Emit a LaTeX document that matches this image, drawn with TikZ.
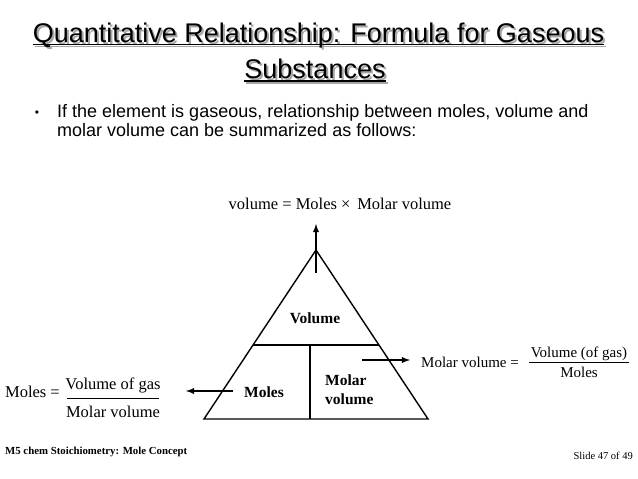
\documentclass[tikz,border=0pt]{standalone}
\usepackage{fontspec}
\setmainfont{Liberation Serif}
\newfontfamily\arialfont{Liberation Sans}
\usepackage{tikz}
\usetikzlibrary{arrows,positioning,calc}

\begin{document}
\begin{tikzpicture}[
    x=1pt, y=-1pt,
    txt/.style={inner sep=0pt, anchor=base},
    title/.style={txt, font=\arialfont\fontsize{27}{32}\selectfont},
    shade/.style={title, text=black!35},
    body/.style={txt, anchor=base west, font=\arialfont\fontsize{18}{20}\selectfont},
    lbl/.style={txt, font=\bfseries\fontsize{15.5}{19}\selectfont},
    frm/.style={txt, font=\fontsize{16.5}{20}\selectfont},
    frmr/.style={txt, font=\fontsize{15}{18}\selectfont},
    foot/.style={txt, font=\fontsize{10.5}{12}\selectfont},
    tri/.style={line width=1.4pt},
    bar/.style={line width=0.9pt},
    arrow/.style={-latex, line width=1.8pt}
]
    \useasboundingbox (0,0) rectangle (638,479);

    % title with shadow
    \node[shade] (title1s) at (320.5,44) {Quantitative Relationship: Formula for Gaseous};
    \node[shade] (title2s) at (317,80) {Substances};
    \draw[black!35, line width=1.6pt] ([yshift=-2.6pt]title1s.base west) -- ([yshift=-2.6pt]title1s.base east);
    \draw[black!35, line width=1.6pt] ([yshift=-3pt]title2s.base west) -- ([yshift=-3pt]title2s.base east);
    \node[title] (title1) at (318.5,42) {Quantitative Relationship: Formula for Gaseous};
    \node[title] (title2) at (315,78) {Substances};
    \draw[line width=1.6pt] ([yshift=-2.6pt]title1.base west) -- ([yshift=-2.6pt]title1.base east);
    \draw[line width=1.6pt] ([yshift=-3pt]title2.base west) -- ([yshift=-3pt]title2.base east);

    % bullet text
    \node[txt, font=\arialfont\fontsize{12}{14}\selectfont] (dot) at (37,116) {•};
    \node[body] (line1) at (57,117) {If the element is gaseous, relationship between moles, volume and};
    \node[body] (line2) at (57,136) {molar volume can be summarized as follows:};

    % triangle
    \coordinate (apex) at (316,250);
    \coordinate (bl) at (204,419);
    \coordinate (br) at (428,419);
    \coordinate (ml) at ($(apex)!0.562!(bl)$);
    \coordinate (mr) at ($(apex)!0.562!(br)$);
    \draw[tri] (apex) -- (bl) -- (br) -- cycle;
    \draw[tri] (ml) -- (mr);
    \draw[tri] (310,345) -- (310,419);

    \node[lbl] (vol) at (315,323) {Volume};
    \node[lbl] (moles) at (264,397) {Moles};
    \node[lbl, anchor=base west] (molv1) at (325,385) {Molar};
    \node[lbl, anchor=base west] (molv2) at (325,404) {volume};

    % formulas
    \node[frm] (eqn) at (340,209) {volume = Moles × \,Molar volume};

    \node[frm, anchor=base east] (lhs) at (60,397) {Moles =};
    \node[frm] (numL) at (113,389) {Volume of gas};
    \node[frm] (denL) at (113,417) {Molar volume};
    \draw[bar] (67,398) -- (159,398);

    \node[frmr, anchor=base east] (rhs) at (519,367) {Molar volume =};
    \node[frmr] (numR) at (579,357) {Volume (of gas)};
    \node[frmr] (denR) at (579,377) {Moles};
    \draw[bar] (529,362) -- (629,362);

    % arrows
    \coordinate (uptail) at (316,273);
    \coordinate (uphead) at (316,224);
    \coordinate (rtail) at (362,360);
    \coordinate (rhead) at (410,360);
    \coordinate (ltail) at (233,391);
    \coordinate (lhead) at (186,391);
    \draw[arrow] (uptail) -- (uphead);
    \draw[arrow] (rtail) -- (rhead);
    \draw[arrow] (ltail) -- (lhead);

    % footer
    \node[foot, anchor=base west, font=\bfseries\fontsize{10.8}{12}\selectfont] (foot1) at (5,454) {M5 chem Stoichiometry: Mole Concept};
    \node[foot, anchor=base east] (foot2) at (633,459) {Slide 47 of 49};
\end{tikzpicture}
\end{document}
